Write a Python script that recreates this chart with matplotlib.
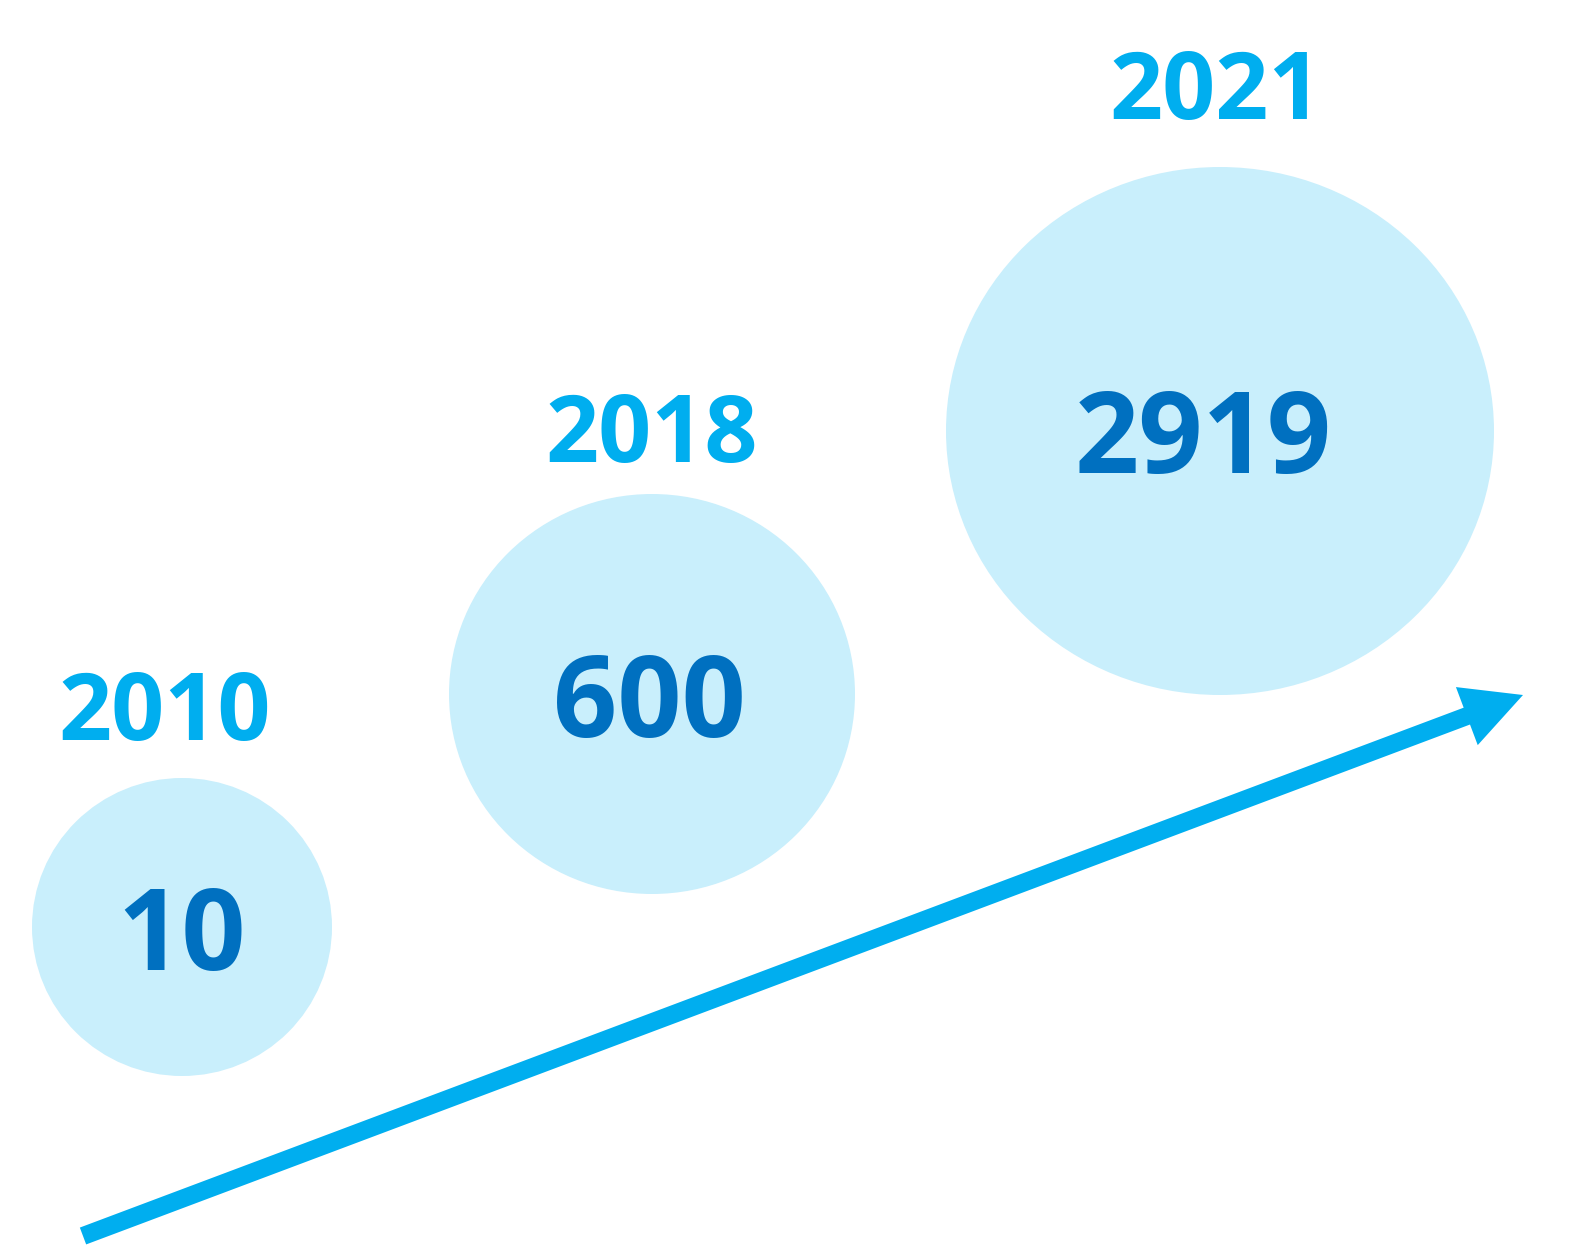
import matplotlib
matplotlib.use("Agg")
import matplotlib.pyplot as plt
from matplotlib.patches import Ellipse, FancyArrow

# data
years = ["2010", "2018", "2021"]
values = ["10", "600", "2919"]

# layout (pixel coords, y down)
centers = [(182, 927), (652, 694), (1220, 431)]
radii = [(150, 149), (203, 200), (274, 264)]
year_pos = [(165, 740), (652, 462), (1216, 119)]
value_pos = [(182, 970), (649, 737), (1203, 473)]

circle_color = "#C9EFFC"
year_color = "#00AEEF"
value_color = "#0070C0"
arrow_color = "#00AEEF"
font = "Open Sans"

W, H = 1589, 1249
fig = plt.figure(figsize=(W / 100, H / 100), dpi=100)
ax = fig.add_axes([0, 0, 1, 1])
ax.set_xlim(0, W)
ax.set_ylim(H, 0)
ax.axis("off")

for (cx, cy), (rx, ry) in zip(centers, radii):
    ax.add_patch(Ellipse((cx, cy), 2 * rx, 2 * ry, color=circle_color, lw=0))

for (x, y), t in zip(year_pos, years):
    ax.text(x, y, t, ha="center", va="baseline", fontsize=67,
            fontweight="bold", family=font, color=year_color)

for (x, y), t in zip(value_pos, values):
    ax.text(x, y, t, ha="center", va="baseline", fontsize=81,
            fontweight="bold", family=font, color=value_color)

# arrow along the bottom
x0, y0 = 83, 1236
x1, y1 = 1523, 695
ax.add_patch(FancyArrow(x0, y0, x1 - x0, y1 - y0, width=18, head_width=62,
                        head_length=60, length_includes_head=True,
                        color=arrow_color, lw=0))

fig.savefig("out.png", dpi=100)
